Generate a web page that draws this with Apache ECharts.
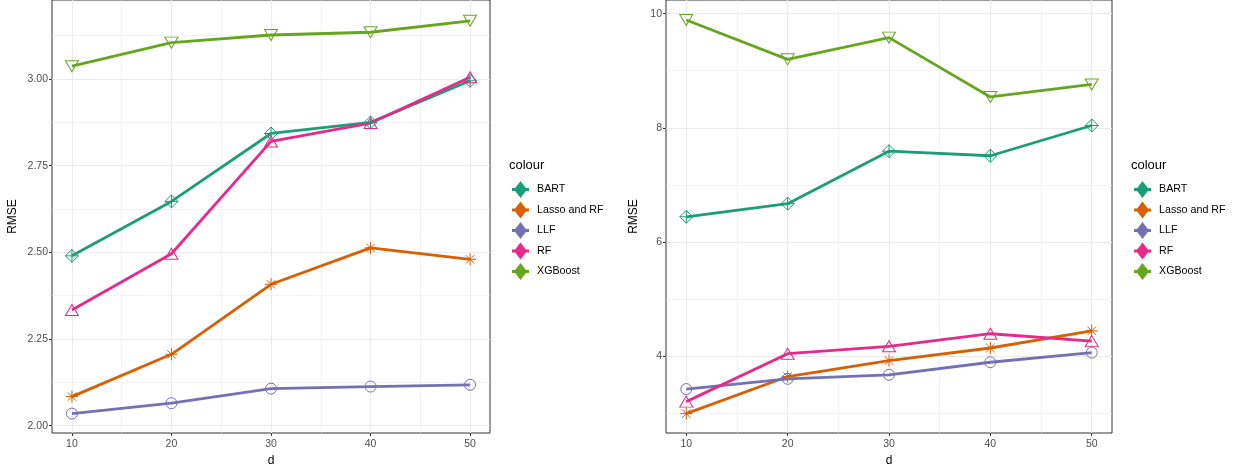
<!DOCTYPE html>
<html>
<head>
<meta charset="utf-8">
<script src="https://cdn.jsdelivr.net/npm/echarts@6/dist/echarts.min.js"></script>
<style>
  html, body { margin: 0; padding: 0; background: #fff; }
  #chart { width: 1233px; height: 465px; }
</style>
</head>
<body>
<div id="chart"></div>
<script>
// x values (d)
const dValues = [10, 20, 30, 40, 50];
const methods = ["BART", "Lasso and RF", "LLF", "RF", "XGBoost"];
const colors = ["#1B9E77", "#D95F02", "#7570B3", "#E7298A", "#66A61E"];

// left panel RMSE
const leftBART = [2.49, 2.647, 2.843, 2.875, 2.995];
const leftLasso = [2.084, 2.206, 2.408, 2.513, 2.48];
const leftLLF = [2.035, 2.065, 2.107, 2.113, 2.118];
const leftRF = [2.334, 2.496, 2.82, 2.873, 3.005];
const leftXGB = [3.037, 3.105, 3.127, 3.135, 3.168];

// right panel RMSE
const rightBART = [6.44, 6.67, 7.59, 7.51, 8.04];
const rightLasso = [2.99, 3.64, 3.92, 4.14, 4.44];
const rightLLF = [3.42, 3.60, 3.67, 3.89, 4.06];
const rightRF = [3.20, 4.04, 4.17, 4.39, 4.26];
const rightXGB = [9.89, 9.20, 9.58, 8.54, 8.76];

// ticks
const xMajor = [10, 20, 30, 40, 50];
const xMinor = [15, 25, 35, 45];
const leftYMajor = [2.00, 2.25, 2.50, 2.75, 3.00];
const leftYMinor = [2.125, 2.375, 2.625, 2.875, 3.125];
const rightYMajor = [4, 6, 8, 10];
const rightYMinor = [3, 5, 7, 9];

const symbols = [
  "path://M5 0 L10 5 L5 10 L0 5 Z M5 0 L5 10 M0 5 L10 5",   // diamond plus
  "path://M5 0 L5 10 M0 5 L10 5 M1.5 1.5 L8.5 8.5 M8.5 1.5 L1.5 8.5", // asterisk
  "circle",
  "path://M5 0 L10 8.66 L0 8.66 Z",                          // triangle up
  "path://M0 0 L10 0 L5 8.66 Z"                              // triangle down
];
const symbolSizes = [13, 12, 11, [13, 11], [13, 11]];

const gridCol = "#ebebeb";
const font = "Liberation Sans, Arial, sans-serif";

let chart = echarts.init(document.getElementById("chart"), null, { renderer: "canvas" });

function xAxes(gridIndex) {
  return [
    {
      type: "value", gridIndex: gridIndex, min: 8, max: 52,
      name: "d", nameLocation: "middle", nameGap: 19,
      nameTextStyle: { color: "#000", fontSize: 12, fontFamily: font },
      axisLine: { show: false },
      axisTick: { show: true, length: 3, customValues: xMajor, lineStyle: { color: "#333" } },
      axisLabel: { customValues: xMajor, color: "#4d4d4d", fontSize: 10.5, margin: 6, fontFamily: font },
      splitLine: { show: true, lineStyle: { color: gridCol, width: 1.1 } }
    },
    {
      type: "value", gridIndex: gridIndex, min: 8, max: 52,
      axisLine: { show: false },
      axisTick: { show: false, customValues: xMinor },
      axisLabel: { show: false, customValues: xMinor },
      splitLine: { show: true, lineStyle: { color: gridCol, width: 0.6 } }
    }
  ];
}

function yAxes(gridIndex, mn, mx, major, minor, digits, gap) {
  return [
    {
      type: "value", gridIndex: gridIndex, min: mn, max: mx,
      name: "RMSE", nameLocation: "middle", nameGap: gap, nameRotate: 90,
      nameTextStyle: { color: "#000", fontSize: 12, fontFamily: font },
      axisLine: { show: false },
      axisTick: { show: true, length: 3, customValues: major, lineStyle: { color: "#333" } },
      axisLabel: {
        customValues: major, color: "#4d4d4d", fontSize: 10.5, margin: 4, fontFamily: font,
        formatter: v => v.toFixed(digits)
      },
      splitLine: { show: true, lineStyle: { color: gridCol, width: 1.1 } }
    },
    {
      type: "value", gridIndex: gridIndex, min: mn, max: mx,
      axisLine: { show: false },
      axisTick: { show: false, customValues: minor },
      axisLabel: { show: false, customValues: minor },
      splitLine: { show: true, lineStyle: { color: gridCol, width: 0.6 } }
    }
  ];
}

function makeSeries(panelData, xIdx, yIdx) {
  return panelData.map((vals, i) => ({
    name: methods[i],
    type: "line",
    xAxisIndex: xIdx,
    yAxisIndex: yIdx,
    data: dValues.map((d, j) => [d, vals[j]]),
    symbol: symbols[i],
    symbolSize: symbolSizes[i],
    showAllSymbol: true,
    lineStyle: { color: colors[i], width: 2.8 },
    itemStyle: { color: "rgba(255,255,255,0)", borderColor: colors[i], borderWidth: 1 },
    emphasis: { disabled: true },
    z: 3
  }));
}

const legendIcon = "path://M0 7 L17 7 L17 10 L0 10 Z M8.5 0 L15 8.5 L8.5 17 L2 8.5 Z";

function legend(left) {
  return {
    orient: "vertical", left: left, top: 176,
    itemWidth: 17, itemHeight: 17, itemGap: 3.5,
    icon: legendIcon,
    textStyle: { color: "#000", fontSize: 10.7, fontFamily: font, padding: [0, 0, 0, 3] },
    selectedMode: false,
    data: methods.map((m, i) => ({ name: m, itemStyle: { color: colors[i], borderWidth: 0 } }))
  };
}

let option = {
  backgroundColor: "#fff",
  animation: false,
  title: [
    { text: "colour", left: 504, top: 154, textStyle: { fontSize: 13, fontWeight: "normal", color: "#000", fontFamily: font } },
    { text: "colour", left: 1126, top: 154, textStyle: { fontSize: 13, fontWeight: "normal", color: "#000", fontFamily: font } }
  ],
  grid: [
    { left: 52, top: 0, width: 438, height: 433, show: true, borderColor: "#333", borderWidth: 1, backgroundColor: "#fff", outerBoundsMode: "none", containLabel: false },
    { left: 666, top: 0, width: 446, height: 433, show: true, borderColor: "#333", borderWidth: 1, backgroundColor: "#fff", outerBoundsMode: "none", containLabel: false }
  ],
  legend: [legend(507), legend(1129)],
  xAxis: [].concat(xAxes(0), xAxes(1)),
  yAxis: [].concat(
    yAxes(0, 1.979, 3.228, leftYMajor, leftYMinor, 2, 33),
    yAxes(1, 2.65, 10.24, rightYMajor, rightYMinor, 0, 26)
  ),
  series: [].concat(
    makeSeries([leftBART, leftLasso, leftLLF, leftRF, leftXGB], 0, 0),
    makeSeries([rightBART, rightLasso, rightLLF, rightRF, rightXGB], 2, 2)
  )
};

chart.setOption(option);
</script>
</body>
</html>
